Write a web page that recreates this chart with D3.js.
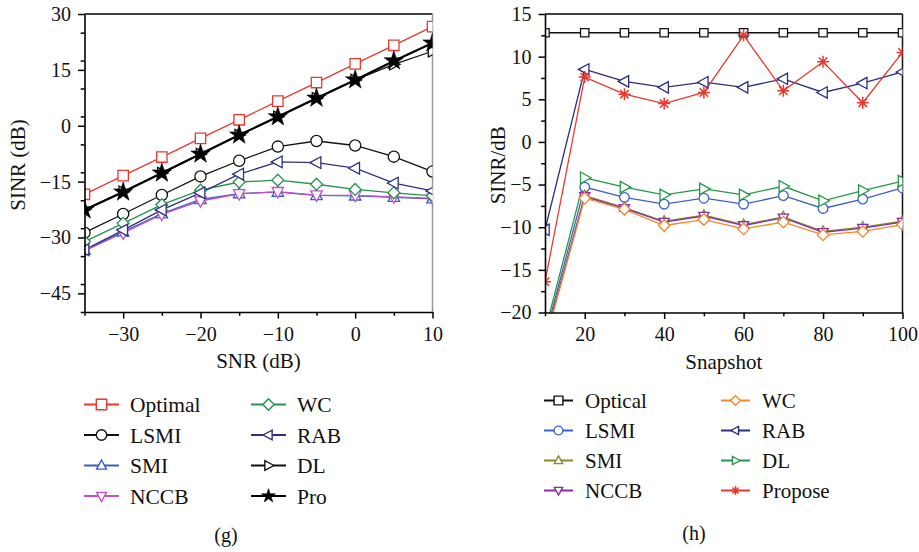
<!DOCTYPE html>
<html>
<head>
<meta charset="utf-8">
<script src="https://cdn.jsdelivr.net/npm/d3@7"></script>
<style>
  html, body { margin: 0; padding: 0; background: #fff; }
  svg { display: block; }
  svg text { font-family: "Liberation Serif", "DejaVu Serif", serif; }
</style>
</head>
<body>
<svg id="chart" width="919" height="552"></svg>
<script>
// ---- Panel (g): SINR versus SNR ----
const snr = [-35, -30, -25, -20, -15, -10, -5, 0, 5, 10];
const gOptimal = [-18.4, -13.4, -8.4, -3.4, 1.6, 6.6, 11.6, 16.6, 21.6, 26.6];
const gLSMI    = [-28.7, -23.7, -18.6, -13.6, -9.4, -5.6, -4.1, -5.3, -8.3, -12.3];
const gSMI     = [-33.4, -28.5, -23.6, -19.8, -18.2, -17.8, -18.7, -18.8, -19.2, -19.6];
const gNCCB    = [-33.6, -28.8, -23.8, -20.2, -18.3, -17.7, -18.6, -18.7, -19.1, -19.5];
const gWC      = [-31.1, -26.2, -21.2, -17.3, -15.1, -14.6, -15.7, -17.1, -18.0, -18.8];
const gRAB     = [-33.3, -28.0, -22.6, -18.0, -13.0, -9.7, -9.9, -11.4, -15.4, -17.5];
const gDL      = [-22.5, -17.7, -12.7, -7.6, -2.5, 2.4, 7.4, 12.3, 16.5, 20.0];
const gPro     = [-22.6, -17.8, -12.7, -7.6, -2.5, 2.4, 7.4, 12.3, 17.4, 22.2];
const gXTicks = [-30, -20, -10, 0, 10];
const gYTicks = [30, 15, 0, -15, -30, -45];

// ---- Panel (h): SINR versus number of snapshots ----
const snapshots = [10, 20, 30, 40, 50, 60, 70, 80, 90, 100];
const hOptical = [12.8, 12.8, 12.8, 12.8, 12.8, 12.8, 12.8, 12.8, 12.8, 12.8];
const hLSMI    = [-22.8, -5.3, -6.5, -7.3, -6.6, -7.3, -6.3, -7.8, -6.7, -5.4];
const hSMI     = [-23.2, -6.3, -7.7, -9.3, -8.6, -9.7, -8.8, -10.5, -10.0, -9.3];
const hNCCB    = [-23.3, -6.4, -7.8, -9.4, -8.7, -9.8, -8.9, -10.6, -10.1, -9.4];
const hWC      = [-23.5, -6.6, -7.9, -9.8, -9.1, -10.2, -9.4, -10.9, -10.5, -9.7];
const hRAB     = [-10.3, 8.5, 7.1, 6.4, 7.0, 6.4, 7.4, 5.8, 6.9, 8.2];
const hDL      = [-22.2, -4.2, -5.3, -6.2, -5.5, -6.2, -5.2, -6.9, -5.7, -4.6];
const hPropose = [-16.4, 7.6, 5.6, 4.5, 5.8, 12.5, 6.0, 9.4, 4.6, 10.5];
const hXTicks = [20, 40, 60, 80, 100];
const hYTicks = [15, 10, 5, 0, -5, -10, -15, -20];

const FONT = "'Liberation Serif', 'DejaVu Serif', serif";

// ---- marker shapes (s = half size) ----
const shapes = {
  square: s => `M${-s},${-s}H${s}V${s}H${-s}Z`,
  circle: s => `M${-s},0A${s},${s} 0 1,0 ${s},0A${s},${s} 0 1,0 ${-s},0Z`,
  triUp: s => `M0,${-s * 1.05}L${s * 0.95},${s * 0.7}L${-s * 0.95},${s * 0.7}Z`,
  triDown: s => `M0,${s * 1.05}L${s * 0.95},${-s * 0.7}L${-s * 0.95},${-s * 0.7}Z`,
  triLeft: s => `M${-s * 1.05},0L${s * 0.7},${-s * 0.95}L${s * 0.7},${s * 0.95}Z`,
  triRight: s => `M${s * 1.05},0L${-s * 0.7},${-s * 0.95}L${-s * 0.7},${s * 0.95}Z`,
  diamond: s => `M0,${-s * 1.1}L${s * 1.1},0L0,${s * 1.1}L${-s * 1.1},0Z`,
  star: s => d3.symbol(d3.symbolStar, s * s * 2.2)(),
  asterisk: s => `M0,${-s}V${s}M${-s},0H${s}M${-s * 0.7},${-s * 0.7}L${s * 0.7},${s * 0.7}M${-s * 0.7},${s * 0.7}L${s * 0.7},${-s * 0.7}`
};

const svg = d3.select("#chart");

function drawPanel(p) {
  const x = d3.scaleLinear().domain(p.xDomain).range([p.left, p.right]);
  const y = d3.scaleLinear().domain(p.yDomain).range([p.bottom, p.top]);
  const g = svg.append("g");

  const clipId = "clip-" + p.id;
  svg.append("defs").append("clipPath").attr("id", clipId)
    .append("rect")
    .attr("x", p.left).attr("y", p.top)
    .attr("width", p.right - p.left).attr("height", p.bottom - p.top);

  // frame: top and right edges
  g.append("line").attr("x1", p.left).attr("x2", p.right).attr("y1", p.top).attr("y2", p.top)
    .attr("stroke", "#000").attr("stroke-width", 1.5);
  g.append("line").attr("x1", p.right).attr("x2", p.right).attr("y1", p.top).attr("y2", p.bottom)
    .attr("stroke", p.rightEdge).attr("stroke-width", 1.5);

  // series lines, then markers on top
  const plot = g.append("g").attr("clip-path", `url(#${clipId})`);
  p.series.forEach(s => {
    const pts = p.xs.map((xv, i) => [xv, s.values[i]]);
    plot.append("path")
      .datum(pts)
      .attr("fill", "none")
      .attr("stroke", s.color)
      .attr("stroke-width", s.width || 1.3)
      .attr("d", d3.line().x(d => x(d[0])).y(d => y(d[1])));
  });
  p.series.forEach(s => {
    const pts = p.xs.map((xv, i) => [xv, s.values[i]]);
    plot.selectAll(null).data(pts).enter().append("path")
      .attr("transform", d => `translate(${x(d[0])},${y(d[1])})`)
      .attr("d", shapes[s.shape](s.size || p.markerSize))
      .attr("fill", s.shape === "star" ? s.color : (s.shape === "asterisk" ? "none" : "#fff"))
      .attr("stroke", s.color)
      .attr("stroke-width", s.shape === "star" ? 0.6 : (s.shape === "asterisk" ? 1.5 : 1.3));
  });

  // axes with major (labelled) and minor ticks
  const fmt = d => d3.format("d")(d);
  const yMinor = d3.range(p.yDomain[0], p.yDomain[1] + 1e-9, p.yMinorStep)
    .filter(v => !p.yTicks.some(t => Math.abs(t - v) < 1e-9));
  const xMinor = d3.range(p.xDomain[0], p.xDomain[1] + 1e-9, p.xMinorStep)
    .filter(v => !p.xTicks.some(t => Math.abs(t - v) < 1e-9));

  const ax = g.append("g").attr("transform", `translate(${p.left},0)`)
    .call(d3.axisLeft(y).tickValues(p.yTicks).tickFormat(fmt).tickSize(6.5).tickSizeOuter(0).tickPadding(7));
  ax.append("g").call(d3.axisLeft(y).tickValues(yMinor).tickFormat("").tickSize(3.8).tickSizeOuter(0))
    .select(".domain").remove();
  const bx = g.append("g").attr("transform", `translate(0,${p.bottom})`)
    .call(d3.axisBottom(x).tickValues(p.xTicks).tickFormat(fmt).tickSize(6.5).tickSizeOuter(0).tickPadding(8));
  bx.append("g").call(d3.axisBottom(x).tickValues(xMinor).tickFormat("").tickSize(3.8).tickSizeOuter(0))
    .select(".domain").remove();

  [ax, bx].forEach(a => {
    a.attr("font-family", FONT);
    a.selectAll(".domain").attr("stroke", "#000").attr("stroke-width", 1.6);
    a.selectAll(".tick line").attr("stroke", "#000").attr("stroke-width", 1.5);
    a.selectAll(".tick text").attr("fill", "#111").attr("font-size", 20)
      .attr("font-family", FONT);
  });

  // axis titles
  g.append("text")
    .attr("x", (p.left + p.right) / 2).attr("y", p.bottom + 56)
    .attr("text-anchor", "middle").attr("font-size", 21).attr("fill", "#111")
    .attr("font-family", FONT)
    .text(p.xTitle);
  g.append("text")
    .attr("transform", `translate(${p.yTitleX},${(p.top + p.bottom) / 2 + 2}) rotate(-90)`)
    .attr("text-anchor", "middle").attr("font-size", 21).attr("fill", "#111")
    .attr("font-family", FONT)
    .text(p.yTitle);

  // legend: two columns of four
  p.series.forEach((s, i) => {
    const col = Math.floor(i / 4), row = i % 4;
    const lx = p.legend.x[col], ly = p.legend.y0 + row * p.legend.dy;
    const lg = g.append("g").attr("transform", `translate(${lx},${ly})`);
    lg.append("line").attr("x1", 0).attr("x2", p.legend.len)
      .attr("stroke", s.color).attr("stroke-width", 2);
    lg.append("path")
      .attr("transform", `translate(${p.legend.len / 2},0)`)
      .attr("d", shapes[s.shape](p.legend.marker))
      .attr("fill", s.shape === "star" ? s.color : (s.shape === "asterisk" ? "none" : "#fff"))
      .attr("stroke", s.color)
      .attr("stroke-width", s.shape === "star" ? 0.6 : 1.4);
    lg.append("text").attr("x", p.legend.textGap).attr("y", 0).attr("dy", "0.35em")
      .attr("font-size", p.legend.font).attr("fill", "#111")
      .attr("font-family", FONT).text(s.name);
  });

  g.append("text")
    .attr("x", p.caption.x).attr("y", p.caption.y)
    .attr("text-anchor", "middle").attr("font-size", 20).attr("fill", "#111")
    .attr("font-family", FONT)
    .text(p.caption.text);
}

drawPanel({
  id: "g",
  left: 84.5, right: 432.5, top: 14, bottom: 312,
  xDomain: [-35, 10], yDomain: [-50, 30],
  xTicks: gXTicks, yTicks: gYTicks, xMinorStep: 5, yMinorStep: 7.5,
  xs: snr, markerSize: 5.2, rightEdge: "#9a9a9a",
  xTitle: "SNR (dB)", yTitle: "SINR (dB)", yTitleX: 25,
  series: [
    { name: "Optimal", values: gOptimal, color: "#e8392f", shape: "square" },
    { name: "LSMI", values: gLSMI, color: "#111111", shape: "circle", size: 5.6 },
    { name: "SMI", values: gSMI, color: "#3a5cc4", shape: "triUp", size: 6 },
    { name: "NCCB", values: gNCCB, color: "#c350c8", shape: "triDown", size: 6 },
    { name: "WC", values: gWC, color: "#23954a", shape: "diamond", size: 5.4 },
    { name: "RAB", values: gRAB, color: "#2c327e", shape: "triLeft", size: 6.2 },
    { name: "DL", values: gDL, color: "#111111", shape: "triRight", size: 6 },
    { name: "Pro", values: gPro, color: "#000000", shape: "star", size: 7.2, width: 2.2 }
  ],
  legend: { x: [84, 251], y0: 404.5, dy: 30.5, len: 35, marker: 5.2, textGap: 46, font: 21.5 },
  caption: { x: 226, y: 542, text: "(g)" }
});

drawPanel({
  id: "h",
  left: 545, right: 902.5, top: 14, bottom: 312.5,
  xDomain: [10, 100], yDomain: [-20, 15],
  xTicks: hXTicks, yTicks: hYTicks, xMinorStep: 10, yMinorStep: 2.5,
  xs: snapshots, markerSize: 4.8, rightEdge: "#111",
  xTitle: "Snapshot", yTitle: "SINR/dB", yTitleX: 505,
  series: [
    { name: "Optical", values: hOptical, color: "#111111", shape: "square", size: 4.2 },
    { name: "LSMI", values: hLSMI, color: "#3c62c6", shape: "circle", size: 4.8 },
    { name: "SMI", values: hSMI, color: "#8a8b2c", shape: "triUp", size: 5.4 },
    { name: "NCCB", values: hNCCB, color: "#8a2ca6", shape: "triDown", size: 5.4 },
    { name: "WC", values: hWC, color: "#f5872a", shape: "diamond", size: 5.2 },
    { name: "RAB", values: hRAB, color: "#2a2f80", shape: "triLeft", size: 6 },
    { name: "DL", values: hDL, color: "#25994a", shape: "triRight", size: 6 },
    { name: "Propose", values: hPropose, color: "#e8392f", shape: "asterisk", size: 6 }
  ],
  legend: { x: [544, 721], y0: 400.5, dy: 30, len: 29, marker: 4.4, textGap: 41, font: 21 },
  caption: { x: 694, y: 540, text: "(h)" }
});
</script>
</body>
</html>
